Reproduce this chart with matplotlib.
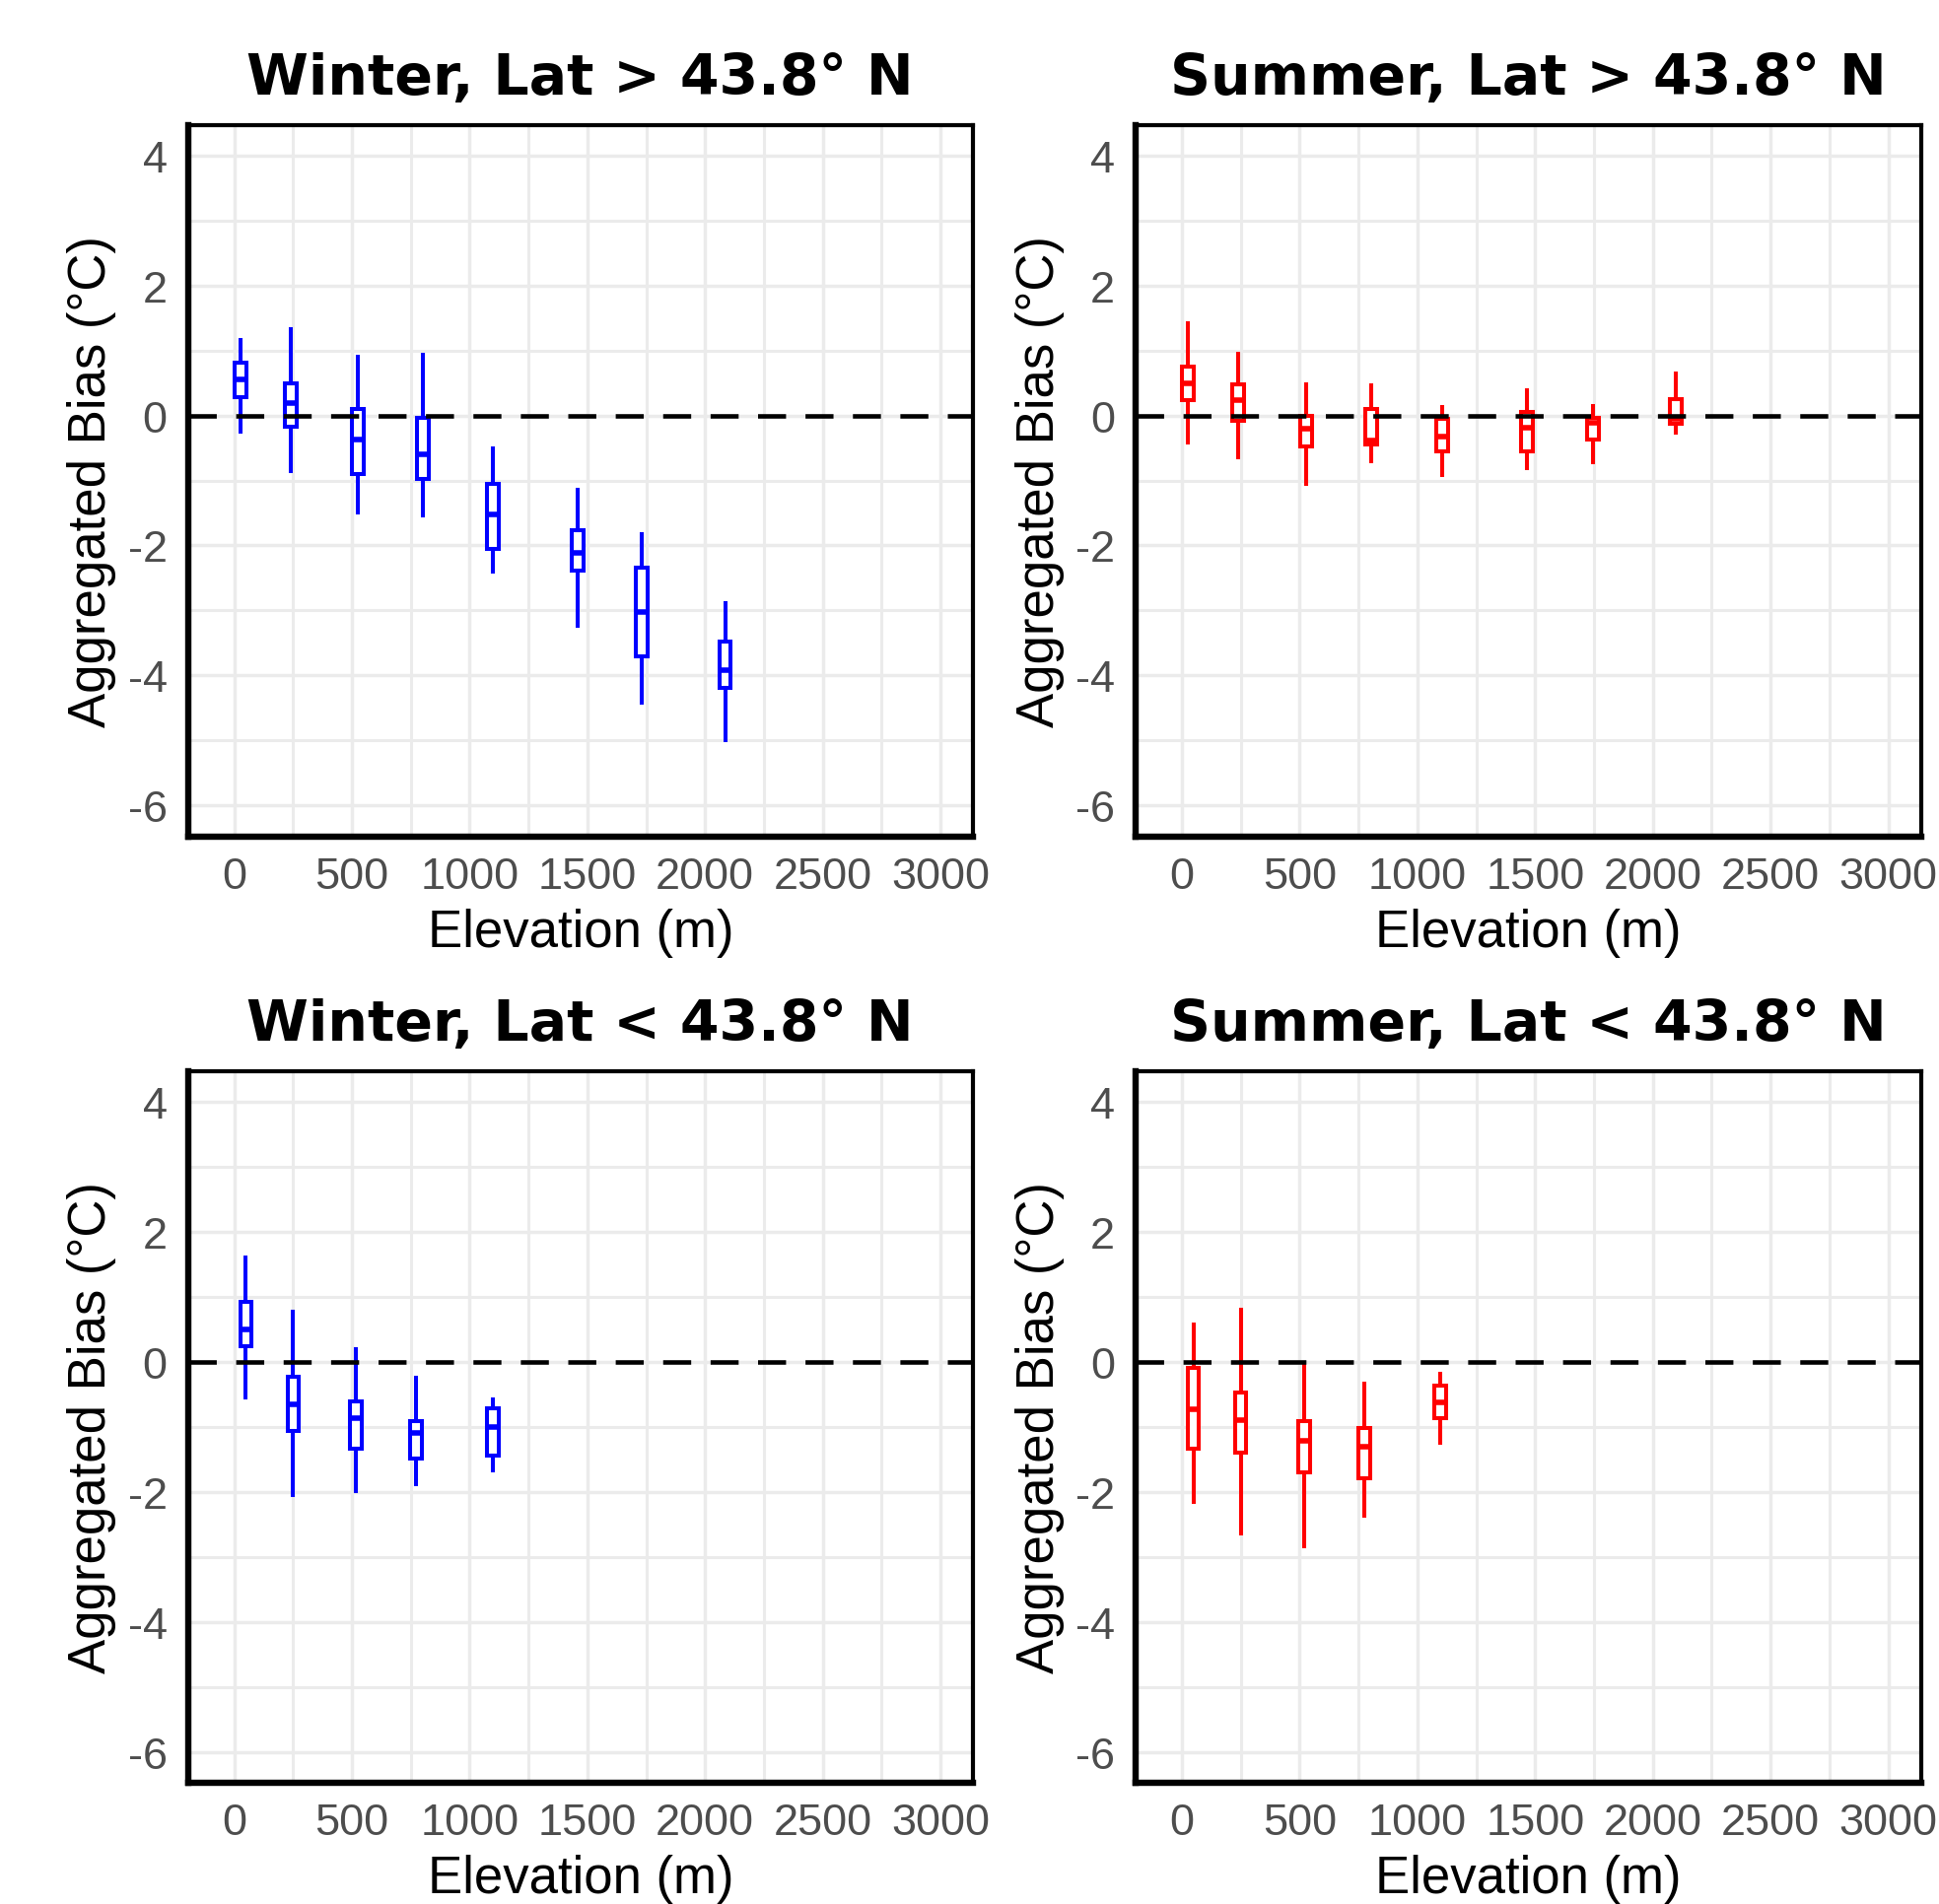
import matplotlib
matplotlib.use("Agg")
import matplotlib.pyplot as plt
from matplotlib.ticker import MultipleLocator

# ---------------- data ----------------
titles = ["Winter, Lat > 43.8° N", "Summer, Lat > 43.8° N",
          "Winter, Lat < 43.8° N", "Summer, Lat < 43.8° N"]
colors = ["#0000FF", "#FF0000", "#0000FF", "#FF0000"]

# Winter, north
wn_elev = [26, 239, 524, 800, 1098, 1459, 1732, 2085]
wn_whishi = [1.16, 1.33, 0.90, 0.93, -0.50, -1.15, -1.83, -2.88]
wn_q3 = [0.81, 0.50, 0.10, -0.04, -1.06, -1.76, -2.34, -3.47]
wn_med = [0.55, 0.19, -0.37, -0.60, -1.53, -2.12, -3.02, -3.92]
wn_q1 = [0.28, -0.18, -0.90, -0.97, -2.05, -2.39, -3.70, -4.19]
wn_whislo = [-0.25, -0.85, -1.49, -1.54, -2.40, -3.24, -4.41, -4.99]

# Summer, north
sn_elev = [24, 240, 527, 803, 1104, 1466, 1744, 2097]
sn_whishi = [1.42, 0.94, 0.48, 0.46, 0.13, 0.39, 0.14, 0.64]
sn_q3 = [0.75, 0.48, 0.00, 0.10, -0.06, 0.06, -0.04, 0.25]
sn_med = [0.50, 0.23, -0.21, -0.38, -0.32, -0.19, -0.12, -0.06]
sn_q1 = [0.24, -0.09, -0.48, -0.45, -0.55, -0.55, -0.37, -0.13]
sn_whislo = [-0.42, -0.64, -1.05, -0.70, -0.92, -0.81, -0.72, -0.27]

# Winter, south
ws_elev = [50, 251, 518, 774, 1097]
ws_whishi = [1.60, 0.78, 0.19, -0.24, -0.57]
ws_q3 = [0.92, -0.22, -0.61, -0.91, -0.71]
ws_med = [0.50, -0.65, -0.86, -1.09, -1.00]
ws_q1 = [0.24, -1.06, -1.33, -1.49, -1.44]
ws_whislo = [-0.55, -2.04, -1.99, -1.88, -1.67]

# Summer, south
ss_elev = [48, 249, 518, 773, 1096]
ss_whishi = [0.57, 0.81, -0.01, -0.33, -0.18]
ss_q3 = [-0.09, -0.47, -0.91, -1.02, -0.36]
ss_med = [-0.73, -0.89, -1.21, -1.31, -0.62]
ss_q1 = [-1.34, -1.39, -1.70, -1.79, -0.87]
ss_whislo = [-2.15, -2.64, -2.83, -2.37, -1.24]

panels = [
    (wn_elev, wn_whislo, wn_q1, wn_med, wn_q3, wn_whishi),
    (sn_elev, sn_whislo, sn_q1, sn_med, sn_q3, sn_whishi),
    (ws_elev, ws_whislo, ws_q1, ws_med, ws_q3, ws_whishi),
    (ss_elev, ss_whislo, ss_q1, ss_med, ss_q3, ss_whishi),
]

x_ticks = [0, 500, 1000, 1500, 2000, 2500, 3000]
y_ticks = [-6, -4, -2, 0, 2, 4]
xlabel = "Elevation (m)"
ylabel = "Aggregated Bias (°C)"

# ---------------- figure ----------------
W, H = 1967, 1933
fig = plt.figure(figsize=(W / 100, H / 100), dpi=100)
fig.patch.set_facecolor("white")

lefts_px = [190.5, 1152]
tops_px = [127.5, 1088]
ax_w_px = 796.5
ax_h_px = 722

sans = ["Liberation Sans", "DejaVu Sans"]
title_font = ["DejaVu Sans"]

for i, (elev, wlo, q1, med, q3, whi) in enumerate(panels):
    r, c = divmod(i, 2)
    left = lefts_px[c] / W
    bottom = (H - tops_px[r] - ax_h_px) / H
    ax = fig.add_axes([left, bottom, ax_w_px / W, ax_h_px / H])

    ax.set_xlim(-197, 3138)
    ax.set_ylim(-6.47, 4.47)

    # grid
    ax.xaxis.set_major_locator(MultipleLocator(500))
    ax.xaxis.set_minor_locator(MultipleLocator(250))
    ax.yaxis.set_major_locator(MultipleLocator(2))
    ax.yaxis.set_minor_locator(MultipleLocator(1))
    ax.set_axisbelow(True)
    ax.grid(which="major", color="#EBEBEB", lw=2.5, zorder=0)
    ax.grid(which="minor", color="#EBEBEB", lw=2.2, zorder=0)
    ax.set_xticks(x_ticks)
    ax.set_yticks(y_ticks)
    ax.set_xticklabels([str(v) for v in x_ticks])
    ax.set_yticklabels([str(v) for v in y_ticks])
    ax.tick_params(which="both", length=0)
    ax.tick_params(axis="x", pad=14.5, labelsize=32.5, labelcolor="#4D4D4D")
    ax.tick_params(axis="y", pad=15, labelsize=32.5, labelcolor="#4D4D4D")
    for lab in ax.get_xticklabels() + ax.get_yticklabels():
        lab.set_family(sans)

    # boxes
    stats = []
    for k in range(len(elev)):
        stats.append(dict(med=med[k], q1=q1[k], q3=q3[k],
                          whislo=wlo[k], whishi=whi[k], fliers=[]))
    col = colors[i]
    ax.bxp(stats, positions=elev, widths=50, showfliers=False,
           showcaps=False, patch_artist=True, manage_ticks=False,
           boxprops=dict(facecolor="white", edgecolor=col, linewidth=2.9),
           whiskerprops=dict(color=col, linewidth=2.9),
           medianprops=dict(color=col, linewidth=4.0, solid_capstyle="butt"),
           zorder=3)

    ax.axhline(0, color="black", lw=3.3, linestyle=(0, (6.2, 4.3)), zorder=4)

    # spines
    for s in ["left", "bottom"]:
        ax.spines[s].set_linewidth(4.6)
        ax.spines[s].set_color("black")
    for s in ["top", "right"]:
        ax.spines[s].set_linewidth(3.0)
        ax.spines[s].set_color("black")
    for s in ax.spines.values():
        s.set_zorder(5)

    ax.set_xlabel(xlabel, fontsize=38, family=sans, labelpad=8)
    ax.set_ylabel(ylabel, fontsize=38, family=sans, labelpad=8)
    ax.set_title(titles[i], fontsize=41, fontweight="bold",
                 family=title_font, pad=23)

fig.savefig("out.png", dpi=100, facecolor="white")
